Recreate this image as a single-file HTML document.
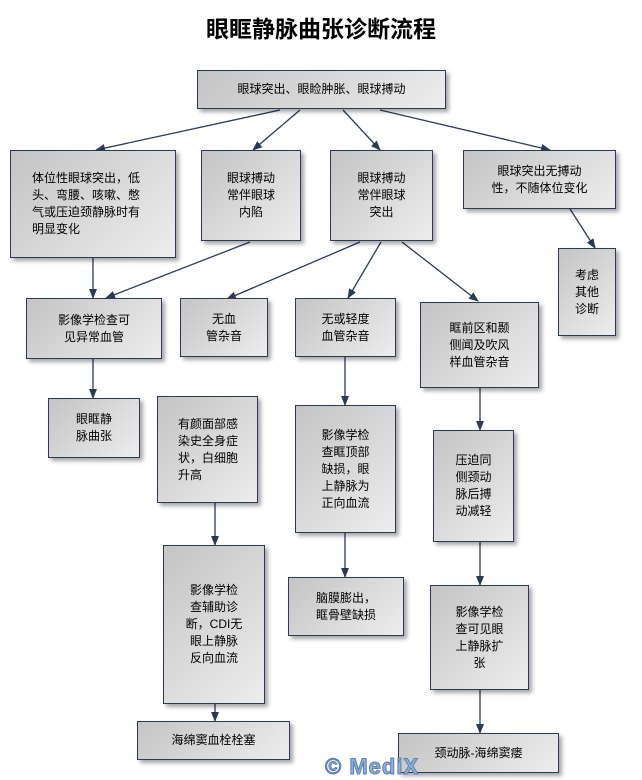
<!DOCTYPE html>
<html><head><meta charset="utf-8"><style>
body{margin:0;background:#fff;width:642px;height:778px;overflow:hidden;font-family:"Liberation Sans","Noto Sans CJK SC",sans-serif}
.b{position:absolute;box-sizing:border-box;border:1px solid #2b3b55;background:linear-gradient(135deg,#c4c4c4,#ededed);box-shadow:3px 3px 4px rgba(0,0,0,.35);display:flex;align-items:center;justify-content:center;text-align:center;font-size:12px;line-height:17px;color:#000}
.t{position:absolute;left:0;width:642px;top:10px;text-align:center;font-size:23px;font-weight:bold}
</style></head><body>
<div class="t">眼眶静脉曲张诊断流程</div>
<svg width="642" height="778" style="position:absolute;left:0;top:0">
<defs><marker id="a" markerWidth="10" markerHeight="8" refX="9" refY="4" orient="auto" markerUnits="userSpaceOnUse"><path d="M0,0 L10,4 L0,8 Z" fill="#2b3b55"/></marker></defs>
<g stroke="#2b3b55" stroke-width="1.3" fill="none" marker-end="url(#a)">
<line x1="280" y1="110" x2="96" y2="150"/>
<line x1="300" y1="110" x2="253" y2="150"/>
<line x1="343" y1="110" x2="380" y2="150"/>
<line x1="380" y1="110" x2="550" y2="150"/>
<line x1="93" y1="258" x2="93" y2="298"/>
<line x1="250" y1="242" x2="106" y2="298"/>
<line x1="360" y1="242" x2="227" y2="299"/>
<line x1="381" y1="242" x2="348" y2="298"/>
<line x1="402" y1="242" x2="478" y2="301"/>
<line x1="570" y1="209" x2="595" y2="248"/>
<line x1="93" y1="359" x2="93" y2="398"/>
<line x1="215" y1="503" x2="215" y2="545"/>
<line x1="345" y1="357" x2="345" y2="405"/>
<line x1="345" y1="533" x2="345" y2="577"/>
<line x1="480" y1="388" x2="480" y2="430"/>
<line x1="480" y1="542" x2="480" y2="585"/>
<line x1="215" y1="704" x2="215" y2="721"/>
<line x1="480" y1="690" x2="480" y2="733"/>
</g></svg>
<div class="b" style="left:197px;top:70px;width:249px;height:39px">眼球突出、眼睑肿胀、眼球搏动</div>
<div class="b" style="left:10px;top:150px;width:166px;height:108px;justify-content:flex-start;text-align:left;padding-left:21px">体位性眼球突出，低<br>头、弯腰、咳嗽、憋<br>气或压迫颈静脉时有<br>明显变化</div>
<div class="b" style="left:201px;top:150px;width:100px;height:91px">眼球搏动<br>常伴眼球<br>内陷</div>
<div class="b" style="left:330px;top:150px;width:103px;height:91px">眼球搏动<br>常伴眼球<br>突出</div>
<div class="b" style="left:463px;top:150px;width:153px;height:59px">眼球突出无搏动<br>性，不随体位变化</div>
<div class="b" style="left:558px;top:248px;width:58px;height:88px">考虑<br>其他<br>诊断</div>
<div class="b" style="left:26px;top:298px;width:136px;height:61px">影像学检查可<br>见异常血管</div>
<div class="b" style="left:180px;top:298px;width:88px;height:59px">无血<br>管杂音</div>
<div class="b" style="left:295px;top:298px;width:101px;height:59px">无或轻度<br>血管杂音</div>
<div class="b" style="left:420px;top:302px;width:119px;height:86px">眶前区和颞<br>侧闻及吹风<br>样血管杂音</div>
<div class="b" style="left:48px;top:398px;width:92px;height:60px">眼眶静<br>脉曲张</div>
<div class="b" style="left:157px;top:396px;width:101px;height:107px;justify-content:flex-start;text-align:left;padding-left:20px">有颜面部感<br>染史全身症<br>状，白细胞<br>升高</div>
<div class="b" style="left:295px;top:405px;width:101px;height:128px">影像学检<br>查眶顶部<br>缺损，眼<br>上静脉为<br>正向血流</div>
<div class="b" style="left:433px;top:430px;width:81px;height:112px">压迫同<br>侧颈动<br>脉后搏<br>动减轻</div>
<div class="b" style="left:163px;top:545px;width:102px;height:159px">影像学检<br>查辅助诊<br>断，CDI无<br>眼上静脉<br>反向血流</div>
<div class="b" style="left:288px;top:577px;width:116px;height:59px">脑膜膨出，<br>眶骨壁缺损</div>
<div class="b" style="left:430px;top:585px;width:99px;height:105px">影像学检<br>查可见眼<br>上静脉扩<br>张</div>
<div class="b" style="left:137px;top:721px;width:153px;height:39px">海绵窦血栓栓塞</div>
<div class="b" style="left:398px;top:733px;width:161px;height:40px">颈动脉-海绵窦瘘</div>
<div style="position:absolute;left:325px;top:754px;font-size:22px;font-weight:bold;color:#8fb0d8;letter-spacing:1px;-webkit-text-stroke:1px #5a7fb0">© MediX</div>
</body></html>
